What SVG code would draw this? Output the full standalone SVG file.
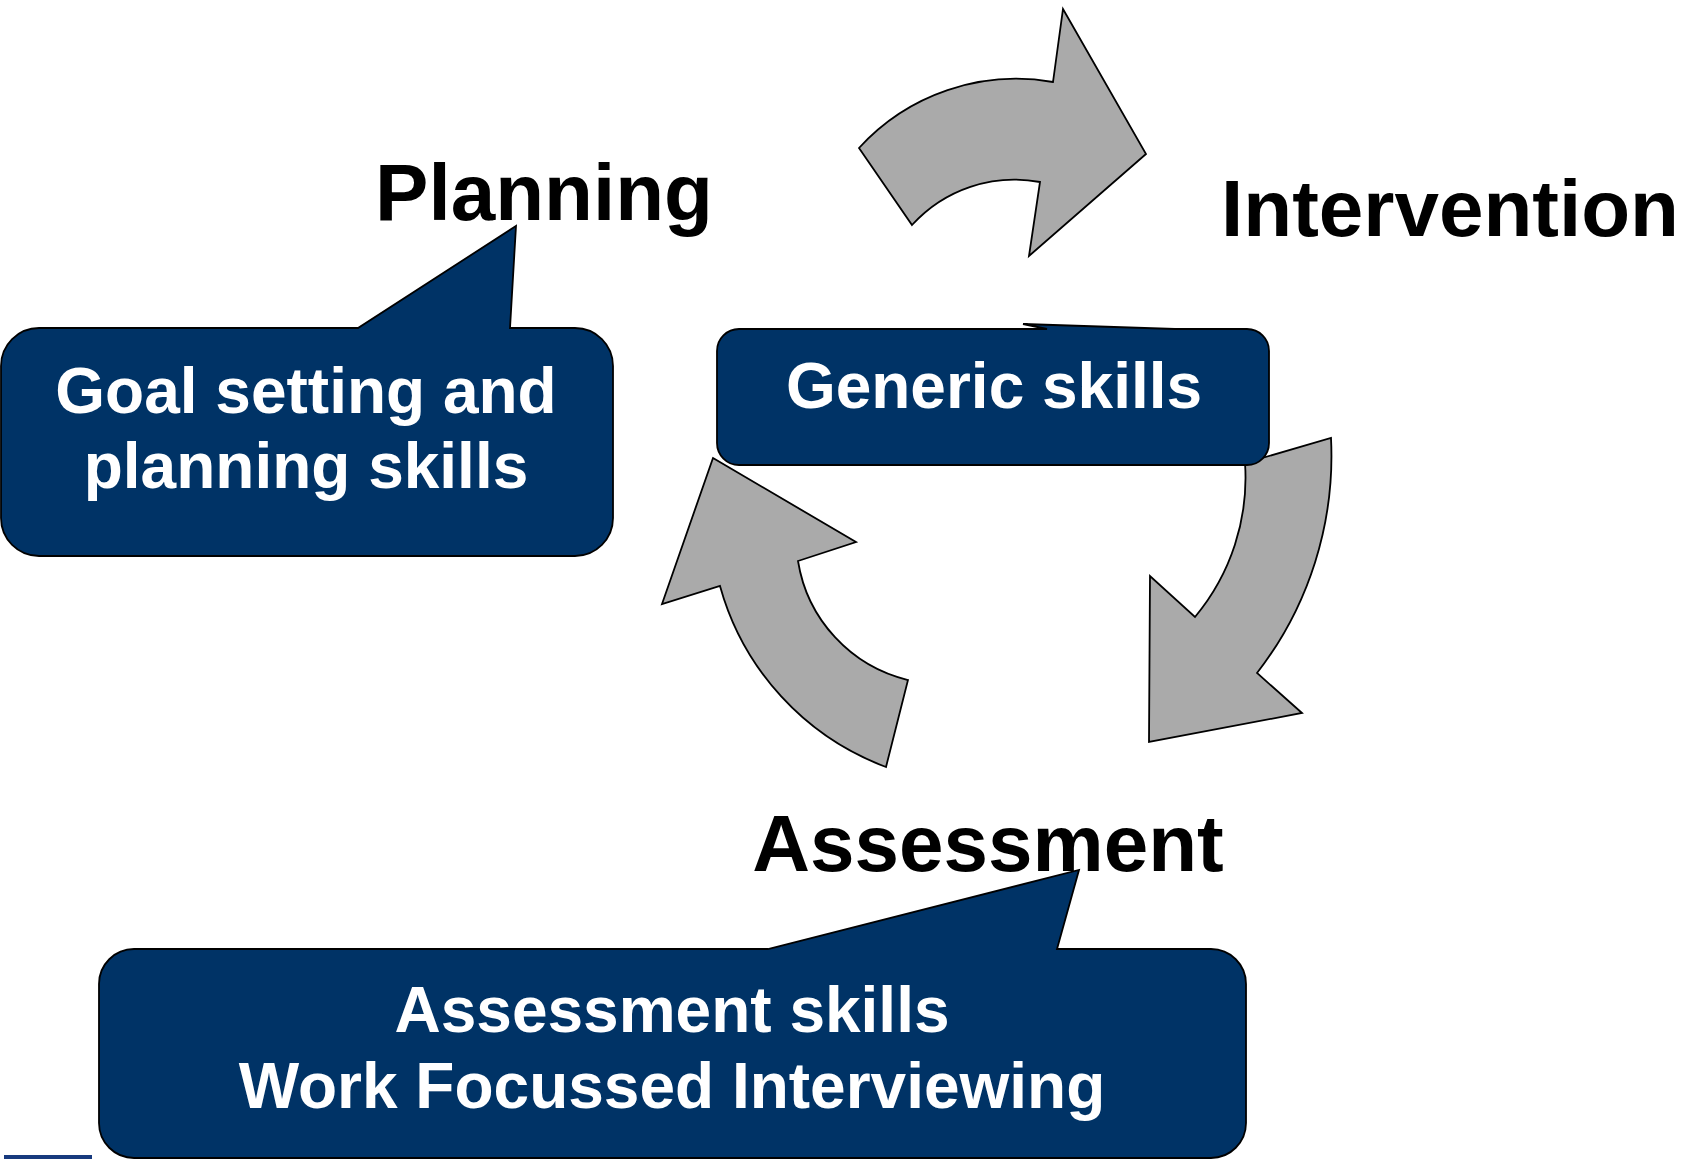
<svg xmlns="http://www.w3.org/2000/svg" width="1686" height="1159" viewBox="0 0 1686 1159">
  <style>
    .arrow { fill: #aaaaaa; stroke: #000000; stroke-width: 1.8; stroke-linejoin: miter; }
    .box { fill: #003366; stroke: #000000; stroke-width: 1.8; }
    .head { font-family: "Liberation Sans", Arial, sans-serif; font-weight: bold; font-size: 80px; fill: #000000; text-anchor: middle; }
    .label { font-family: "Liberation Sans", Arial, sans-serif; font-weight: bold; font-size: 64px; fill: #ffffff; text-anchor: middle; }
  </style>
  <rect width="1686" height="1159" fill="#ffffff"/>

  <!-- curved cycle arrows (circular-arc bands with triangular heads) -->
  <g id="connectors">
    <path id="arrow-plan-to-intervention" class="arrow" d="M 859,148 L 912,225 A 138 138 0 0 1 1040,182 L 1029,256 L 1146,154 L 1063,9 L 1053,82 A 213 213 0 0 0 859,148 Z"/>
    <path id="arrow-intervention-to-assessment" class="arrow" d="M 1245,463 L 1331,438 A 354 354 0 0 1 1257,673 L 1302,713 L 1149,742 L 1150,576 L 1195,617 A 217 217 0 0 0 1245,463 Z"/>
    <path id="arrow-assessment-to-planning" class="arrow" d="M 713,458 L 856,542 L 798,561 A 146 146 0 0 0 908,680 L 886,767 A 270 270 0 0 1 720,586 L 662,604 Z"/>
  </g>

  <!-- stage headings -->
  <g id="planning">
    <text class="head" x="544" y="220">Planning</text>
  </g>
  <g id="intervention">
    <text class="head" x="1450" y="236">Intervention</text>
  </g>
  <g id="assessment">
    <text class="head" x="988" y="871">Assessment</text>
  </g>

  <!-- callout: planning skills -->
  <g id="planning-skills">
    <path class="box" d="M 39,328 L 358,328 L 516,226 L 510,328 L 575,328 A 38 38 0 0 1 613,366 L 613,518 A 38 38 0 0 1 575,556 L 39,556 A 38 38 0 0 1 1,518 L 1,366 A 38 38 0 0 1 39,328 Z"/>
    <text class="label" x="306" y="413">Goal setting and</text>
    <text class="label" x="306" y="488">planning skills</text>
  </g>

  <!-- central box: generic skills -->
  <g id="generic-skills">
    <path class="box" d="M 739,329 L 1047,329 L 1023,324 L 1175,329 L 1247,329 A 22 22 0 0 1 1269,351 L 1269,443 A 22 22 0 0 1 1247,465 L 739,465 A 22 22 0 0 1 717,443 L 717,351 A 22 22 0 0 1 739,329 Z"/>
    <text class="label" x="994" y="408">Generic skills</text>
  </g>

  <!-- callout: assessment skills -->
  <g id="assessment-skills">
    <path class="box" d="M 134,949 L 768,949 L 1079,870 L 1057,949 L 1211,949 A 35 35 0 0 1 1246,984 L 1246,1123 A 35 35 0 0 1 1211,1158 L 134,1158 A 35 35 0 0 1 99,1123 L 99,984 A 35 35 0 0 1 134,949 Z"/>
    <text class="label" x="672" y="1032">Assessment skills</text>
    <text class="label" x="672" y="1108">Work Focussed Interviewing</text>
  </g>

  <!-- footer rule -->
  <rect x="4" y="1155" width="88" height="4" fill="#173a7e"/>
</svg>
